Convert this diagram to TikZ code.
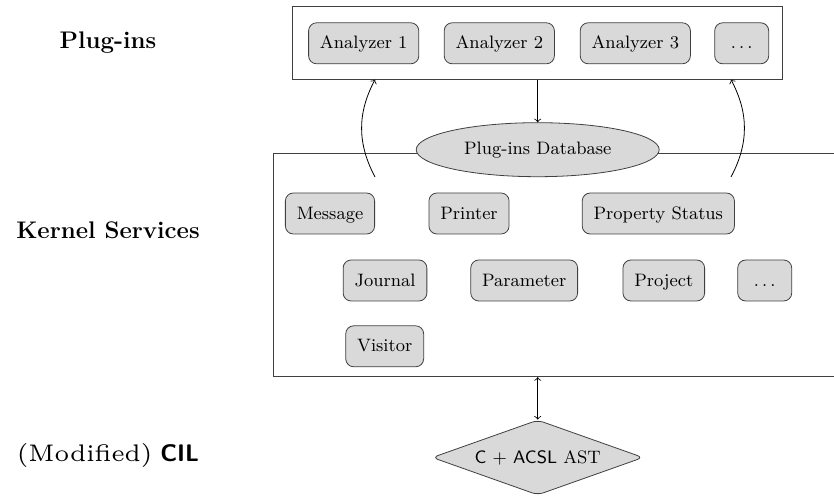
\documentclass[tikz,border=0pt]{standalone}
\usepackage{amsmath, amssymb}
\usepackage{fontspec}
\usepackage{tikz}
\usetikzlibrary{shapes.geometric}
\newfontfamily\lmwide{lmroman6-regular.otf}

\begin{document}
\begin{tikzpicture}[x=0.5pt,y=0.5pt,yscale=-1,xscale=1,
  service/.style={draw=black!75, fill=black!15, rounded corners=4pt, inner xsep=2mm,
    text height=1.6ex, text depth=.3ex, minimum height=20.5pt, font=\small},
  layer/.style={draw=black!75, inner sep=0pt},
  level/.style={font=\large\bfseries}]
%set diagram left start at 0, and has height of 496
\useasboundingbox (0,0) rectangle (834,496);

%Shape: Rectangle [id:plugbox]
\node (plugbox) [layer, minimum width=245pt, minimum height=36.3pt] at (537.7,43) {};
%Shape: Rectangle [id:kernel]
\node (kernel) [layer, minimum width=294pt, minimum height=111.7pt] at (567,265) {};

% Plug-ins
\node (an1) [service] at (363.7,43.3) {Analyzer 1};
\node (an2) [service] at (499.3,43.3) {Analyzer 2};
\node (an3) [service] at (635.3,43.3) {Analyzer 3};
\node (anx) [service, minimum width=27pt] at (741.7,43.3) {$\ldots$};

%Shape: Ellipse [id:db]
\node (db) [ellipse, draw=black!75, fill=black!15, minimum width=121.5pt, minimum height=27pt, inner sep=0pt, font=\small] at (537.7,149.7) {Plug-ins Database};

% Kernel services
\node (msg) [service] at (330,213.5) {Message};
\node (prn) [service] at (469,213.5) {Printer};
\node (pst) [service] at (658.3,213.5) {Property Status};
\node (jrn) [service] at (385,280.5) {Journal};
\node (par) [service] at (524.2,280.5) {Parameter};
\node (prj) [service] at (663.8,280.5) {Project};
\node (ksx) [service, minimum width=27pt] at (764.7,280.5) {$\ldots$};
\node (vis) [service] at (384.7,346.3) {Visitor};

%Shape: Diamond [id:ast]
\node (ast) [diamond, aspect=2.8, draw=black!75, fill=black!15, rounded corners=3pt, minimum width=105.5pt, minimum height=37.5pt, inner sep=0pt, font=\small] at (537.7,457.5) {\textsf{C} $+$ \textsf{ACSL} AST};

%Straight Lines
\draw [->] (plugbox.south -| db) -- (db.north);
\draw [<->] (db |- kernel.south) -- (ast.north);

%Curve Lines
\coordinate (lfrom) at (375,177);
\coordinate (rfrom) at (731,177);
\draw [->] (lfrom) to[bend right=28] (lfrom |- plugbox.south);
\draw [->] (rfrom) to[bend left=28] (rfrom |- plugbox.south);

% Text Node
\node (lplug) [level] at (108,43) {Plug-ins};
% Text Node
\node (lkern) [level] at (108,230) {Kernel Services};
% Text Node
\node (lcil) [font=\large] at (108,455) {{\lmwide (Modified)} \textsf{\bfseries CIL}};
\end{tikzpicture}
\end{document}
